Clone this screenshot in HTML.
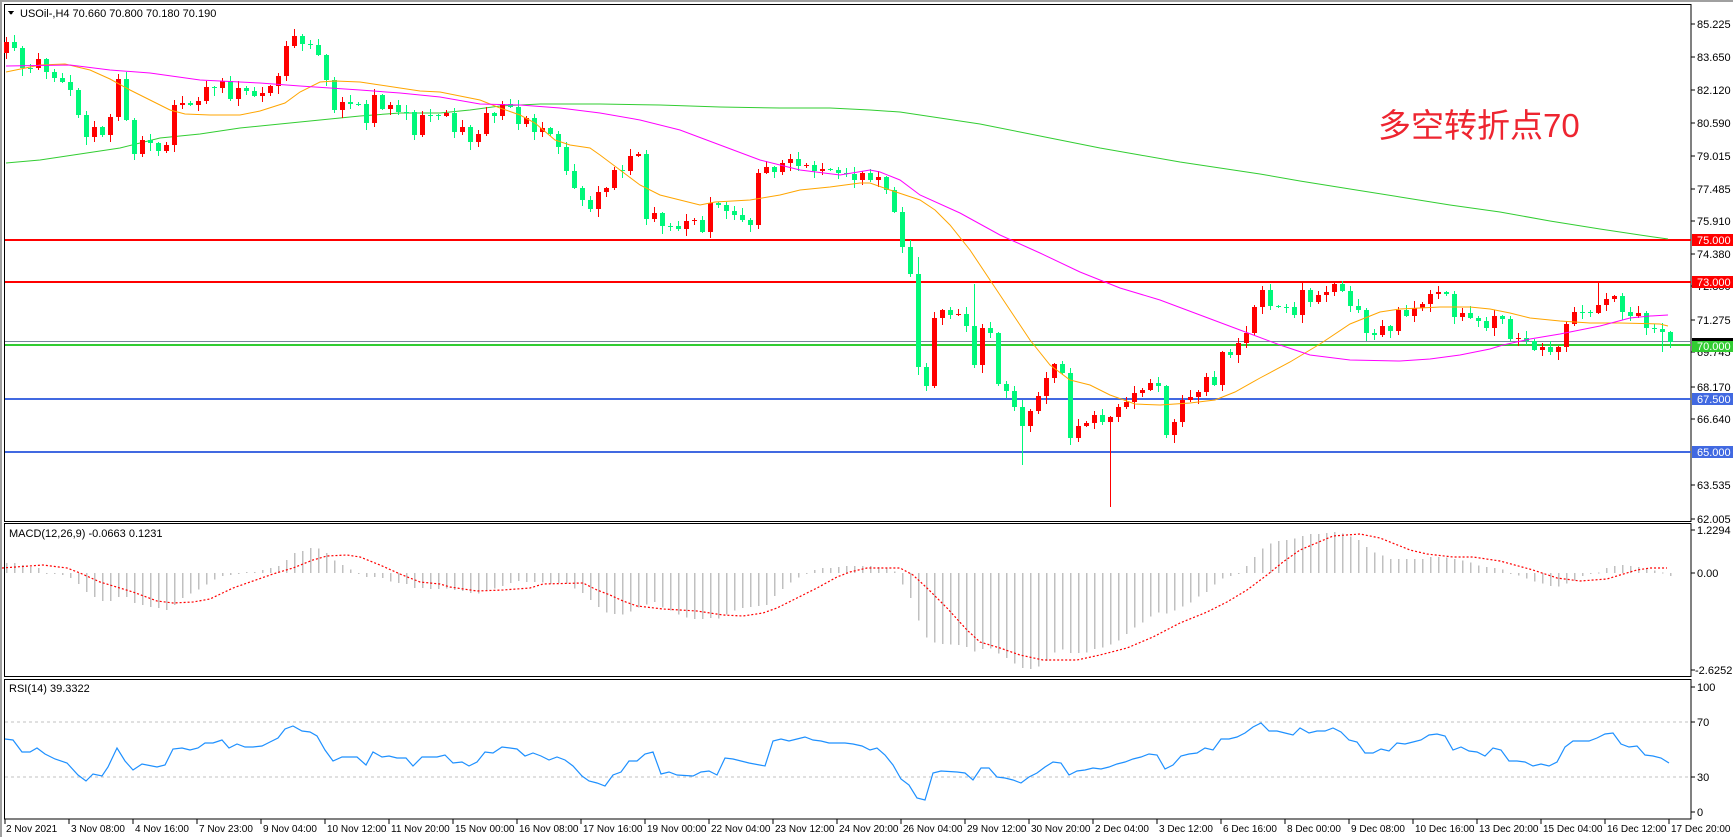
<!DOCTYPE html>
<html><head><meta charset="utf-8">
<style>
html,body{margin:0;padding:0;background:#fff;}
svg{display:block;}
text{font-family:"Liberation Sans","Noto Sans CJK SC",sans-serif;font-size:11px;fill:#000;}
#dt text{font-size:10px;}
</style></head>
<body>
<svg id="s" width="1733" height="837" viewBox="0 0 1733 837" xmlns="http://www.w3.org/2000/svg" shape-rendering="crispEdges">
<rect x="0" y="0" width="1733" height="837" fill="#fff"/>
<rect x="0" y="0" width="1733" height="2" fill="#a0a0a0"/>
<rect x="0" y="0" width="2" height="837" fill="#a0a0a0"/>
<rect x="4.5" y="4.5" width="1686.5" height="517" fill="none" stroke="#000" stroke-width="1"/>
<rect x="4.5" y="523.5" width="1686.5" height="153" fill="none" stroke="#000" stroke-width="1"/>
<rect x="4.5" y="679.5" width="1686.5" height="139.5" fill="none" stroke="#000" stroke-width="1"/>
<line x1="5" y1="240" x2="1691" y2="240" stroke="#ff0000" stroke-width="2"/>
<line x1="5" y1="282" x2="1691" y2="282" stroke="#ff0000" stroke-width="2"/>
<line x1="5" y1="341.5" x2="1691" y2="341.5" stroke="#778899" stroke-width="1"/>
<line x1="5" y1="345" x2="1691" y2="345" stroke="#32cd32" stroke-width="2"/>
<line x1="5" y1="399" x2="1691" y2="399" stroke="#4169e1" stroke-width="2"/>
<line x1="5" y1="452" x2="1691" y2="452" stroke="#4169e1" stroke-width="2"/>
<line x1="5" y1="722" x2="1691" y2="722" stroke="#c0c0c0" stroke-dasharray="3,3"/>
<line x1="5" y1="777" x2="1691" y2="777" stroke="#c0c0c0" stroke-dasharray="3,3"/>
<g id="dyn"></g>
<path d="M8 11 L14 11 L11 15 Z" fill="#000"/>
<text x="20" y="17">USOil-,H4  70.660 70.800 70.180 70.190</text>
<text x="9" y="537">MACD(12,26,9) -0.0663 0.1231</text>
<text x="9" y="692">RSI(14) 39.3322</text>
<text x="1378" y="137" style="font-size:33px;fill:#ee2530;">多空转折点70</text>
<g id="ticks"></g>
<text x="1697" y="28">85.225</text>
<text x="1697" y="61">83.650</text>
<text x="1697" y="94">82.120</text>
<text x="1697" y="127">80.590</text>
<text x="1697" y="160">79.015</text>
<text x="1697" y="193">77.485</text>
<text x="1697" y="225">75.910</text>
<text x="1697" y="258">74.380</text>
<text x="1697" y="290">72.850</text>
<text x="1697" y="324">71.275</text>
<text x="1697" y="356">69.745</text>
<text x="1697" y="391">68.170</text>
<text x="1697" y="423">66.640</text>
<text x="1697" y="489">63.535</text>
<text x="1697" y="523">62.005</text>
<rect x="1692" y="234" width="41" height="12" fill="#ff0000"/>
<text x="1697" y="244" style="fill:#fff">75.000</text>
<rect x="1692" y="276" width="41" height="12" fill="#ff0000"/>
<text x="1697" y="286" style="fill:#fff">73.000</text>
<rect x="1692" y="338" width="41" height="4" fill="#000"/>
<rect x="1692" y="341" width="41" height="11" fill="#32cd32"/>
<text x="1697" y="350" style="fill:#fff">70.000</text>
<rect x="1692" y="393" width="41" height="12" fill="#4169e1"/>
<text x="1697" y="403" style="fill:#fff">67.500</text>
<rect x="1692" y="446" width="41" height="12" fill="#4169e1"/>
<text x="1697" y="456" style="fill:#fff">65.000</text>
<text x="1697" y="534">1.2294</text>
<text x="1697" y="577">0.00</text>
<text x="1695" y="674">-2.6252</text>
<text x="1697" y="691">100</text>
<text x="1697" y="726">70</text>
<text x="1697" y="781">30</text>
<text x="1697" y="816">0</text>
<g id="dt">
<text x="6" y="832">2 Nov 2021</text>
<text x="71" y="832">3 Nov 08:00</text>
<text x="135" y="832">4 Nov 16:00</text>
<text x="199" y="832">7 Nov 23:00</text>
<text x="263" y="832">9 Nov 04:00</text>
<text x="327" y="832">10 Nov 12:00</text>
<text x="391" y="832">11 Nov 20:00</text>
<text x="455" y="832">15 Nov 00:00</text>
<text x="519" y="832">16 Nov 08:00</text>
<text x="583" y="832">17 Nov 16:00</text>
<text x="647" y="832">19 Nov 00:00</text>
<text x="711" y="832">22 Nov 04:00</text>
<text x="775" y="832">23 Nov 12:00</text>
<text x="839" y="832">24 Nov 20:00</text>
<text x="903" y="832">26 Nov 04:00</text>
<text x="967" y="832">29 Nov 12:00</text>
<text x="1031" y="832">30 Nov 20:00</text>
<text x="1095" y="832">2 Dec 04:00</text>
<text x="1159" y="832">3 Dec 12:00</text>
<text x="1223" y="832">6 Dec 16:00</text>
<text x="1287" y="832">8 Dec 00:00</text>
<text x="1351" y="832">9 Dec 08:00</text>
<text x="1415" y="832">10 Dec 16:00</text>
<text x="1479" y="832">13 Dec 20:00</text>
<text x="1543" y="832">15 Dec 04:00</text>
<text x="1607" y="832">16 Dec 12:00</text>
<text x="1671" y="832">17 Dec 20:00</text>
</g>
</svg>
<script>
(function(){
var NS="http://www.w3.org/2000/svg";
var g=document.getElementById("dyn");
function el(t,a,p){var e=document.createElementNS(NS,t);for(var k in a)e.setAttribute(k,a[k]);(p||g).appendChild(e);return e;}
function interp(L,x){if(x<=L[0][0])return L[0][1];for(var i=1;i<L.length;i++){if(x<=L[i][0]){var a=L[i-1],b=L[i];return a[1]+(b[1]-a[1])*(x-a[0])/(b[0]-a[0]);}}return L[L.length-1][1];}
function poly(L,col,w,extra){var s=L.map(function(p){return p[0]+","+p[1];}).join(" ");var a={points:s,fill:"none",stroke:col,"stroke-width":w,"shape-rendering":"auto"};for(var k in extra)a[k]=extra[k];el("polyline",a);}
var tg=document.getElementById("ticks");
[24,57,90,123,156,189,221,254,286,320,352,387,419,485,519,530,573,670,687,722,777,812].forEach(function(y){el("line",{x1:1691,y1:y,x2:1695,y2:y,stroke:"#000"},tg);});
for(var k=0;k<27;k++){var x=5+64*k;el("line",{x1:x,y1:819,x2:x,y2:824,stroke:"#000"},tg);}
var green=[[6,163],[40,160],[80,154],[120,148],[160,138],[200,134],[240,128],[280,124],[320,120],[360,116],[400,113],[440,113],[470,110],[500,106],[540,104],[600,104],[660,105],[720,107],[780,108],[830,108],[870,110],[900,112],[940,118],[980,124],[1020,132],[1060,140],[1100,148],[1140,155],[1180,162],[1220,168],[1260,174],[1300,181],[1350,189],[1400,197],[1450,205],[1500,212],[1550,221],[1600,229],[1640,235],[1668,239]];
var orange=[[6,72],[40,65],[65,64],[90,70],[110,79],[130,90],[150,100],[170,110],[185,114],[210,115],[240,115],[260,111],[285,103],[300,92],[320,82],[335,81],[360,82],[380,85],[400,88],[420,91],[440,92],[460,96],[480,100],[500,108],[520,115],[535,123],[555,140],[570,145],[590,148],[600,155],[620,170],[640,185],[660,195],[680,200],[700,205],[715,202],[750,200],[780,195],[800,190],[830,187],[860,183],[870,183],[890,190],[920,200],[935,210],[950,225],[970,250],[990,280],[1010,310],[1030,340],[1050,365],[1070,380],[1090,385],[1110,395],[1135,404],[1160,405],[1190,403],[1215,400],[1235,392],[1260,378],[1290,362],[1320,344],[1350,324],[1380,312],[1400,309],[1440,307],[1470,307],[1490,309],[1510,313],[1530,318],[1560,321],[1590,323],[1620,323],[1660,324],[1668,326]];
var mag=[[6,66],[70,65],[110,70],[150,73],[200,80],[260,83],[300,86],[330,88],[360,90],[400,93],[440,97],[480,104],[520,105],[560,108],[600,113],[640,120],[680,130],[720,145],[760,160],[800,170],[840,175],[870,170],[880,172],[900,180],[920,195],[960,213],[1000,235],[1040,253],[1080,272],[1120,288],[1160,300],[1200,315],[1240,330],[1280,345],[1310,355],[1350,360],[1400,361],[1430,359],[1460,355],[1490,349],[1503,345],[1530,339],[1560,334],[1600,326],[1630,318],[1650,316],[1668,315]];
poly(green,"#32cd32",1);
var A=[[6,42],[13,48],[21,68],[29,68],[37,59],[45,72],[53,78],[61,82],[69,90],[77,115],[85,137],[93,127],[101,135],[109,117],[117,79],[125,120],[133,154],[141,140],[149,143],[157,151],[165,145],[173,105],[181,103],[189,105],[197,101],[205,87],[213,88],[221,81],[229,99],[237,88],[245,91],[253,96],[261,93],[269,86],[277,76],[285,46],[293,36],[301,44],[309,45],[317,55],[325,80],[333,110],[341,102],[349,104],[357,104],[365,123],[373,95],[381,109],[389,105],[397,112],[405,112],[413,135],[421,115],[429,115],[437,116],
[445,113],[453,132],[461,127],[469,142],[477,134],[485,113],[493,116],[501,104],[509,107],[517,124],[525,118],[533,132],[541,128],[549,134],[557,147],[565,171],[573,188],[581,200],[589,209],[597,192],[605,188],[613,170],[621,171],[629,156],[637,154],[645,219],[653,213],[661,226],[669,226],[677,229],[685,221],[693,220],[701,232],[709,203],[717,205],[725,211],[733,215],[741,220],[749,225],[757,173],[765,167],[773,172],[781,163],[789,159],[797,166],[805,165],[813,171],[821,169],[829,170],[837,173],[845,174],[853,180],
[861,173],[869,180],[877,177],[885,190],[893,212],[901,247],[909,274],[917,367],[925,386],[933,318],[941,310],[949,315],[957,314],[965,326],[973,365],[981,328],[989,333],[997,384],[1005,391],[1013,407],[1021,426],[1029,411],[1037,396],[1045,378],[1053,364],[1061,373],[1069,438],[1077,426],[1085,423],[1093,415],[1101,422],[1109,417],[1117,407],[1125,402],[1133,393],[1141,390],[1149,383],[1157,386],[1165,435],[1173,422],[1181,400],[1189,397],[1197,392],[1205,377],[1213,385],[1221,352],[1229,355],[1237,343],[1245,333],[1253,307],[1261,290],[1269,306],[1277,307],[1285,307],[1293,315],[1301,290],
[1309,302],[1317,295],[1325,292],[1333,284],[1341,291],[1349,306],[1357,310],[1365,333],[1373,335],[1381,326],[1389,331],[1397,310],[1405,316],[1413,308],[1421,304],[1429,294],[1437,292],[1445,294],[1453,317],[1461,313],[1469,318],[1477,321],[1485,328],[1493,316],[1501,319],[1509,339],[1517,338],[1525,341],[1533,350],[1541,347],[1549,352],[1557,347],[1565,324],[1573,312],[1581,312],[1589,313],[1597,305],[1605,299],[1613,296],[1621,312],[1629,316],[1637,313],[1645,328],[1653,329],[1661,332],[1669,342]];
var N=209,c=[];for(var i=0;i<N;i++)c.push(null);
A.forEach(function(p){var i=Math.round((p[0]-6)/8);if(i>=0&&i<N)c[i]=p[1];});
var last=-1;for(var i=0;i<N;i++){if(c[i]!==null){if(last>=0&&i-last>1){for(var j=last+1;j<i;j++)c[j]=c[last]+(c[i]-c[last])*(j-last)/(i-last);}last=i;}}
for(var i=0;i<N;i++)if(c[i]===null)c[i]=c[i-1];
var prev=53;
for(var i=0;i<N;i++){
 var x=6+8*i,o=prev,cl=c[i];var top=Math.min(o,cl),bot=Math.max(o,cl);
 var h1=((i*37+11)%7)+1,h2=((i*53+5)%8)+1;
 var hi=top-h1,lo=bot+h2;
 if(i==138)lo=507; if(i==127)lo=465; if(i==114)hi=257; if(i==121)hi=284;
 if(i==199)hi=283; if(i==207)lo=352;
 var col=cl<o?"#ff0000":"#00f87a";
 el("rect",{x:x,y:hi,width:1,height:lo-hi,fill:col});
 var bh=Math.max(1,bot-top);
 el("rect",{x:x-2,y:top,width:5,height:bh,fill:col});
 prev=cl;
}
poly(orange,"#ffa500",1);
poly(mag,"#ff00ff",1);
var hist=[[2,563],[13,563],[22,565],[30,567],[37,567],[45,573],[53,573],[62,575],[70,578],[78,584],[86,592],[94,597],[102,601],[110,601],[117,597],[126,597],[133,603],[142,605],[149,607],[157,608],[166,610],[173,606],[182,598],[189,594],[197,590],[205,585],[213,580],[222,576],[229,575],[245,572],[253,572],[262,570],[269,568],[277,567],[286,560],[293,553],[302,551],[310,548],[317,548],[325,552],[333,560],[342,565],[349,569],[357,573],[366,577],[373,577],[382,578],[389,581],[397,583],[406,584],[413,588],[422,588],[429,589],[438,589],[445,588],[453,590],[462,591],[469,593],[477,594],[485,590],[493,589],[502,586],[509,583],[517,581],[525,582],[533,582],[541,582],[549,584],[557,583],[565,583],[573,588],[582,593],[589,599],[597,606],[605,612],[613,614],[621,615],[629,612],[637,608],[645,605],[653,601],[661,607],[669,610],[677,614],[685,617],[693,619],[701,619],[709,618],[717,619],[725,615],[733,611],[741,608],[749,607],[757,606],[765,606],[773,597],[781,590],[789,583],[797,578],[813,570],[821,568],[829,568],[837,567],[845,566],[853,566],[861,566],[869,566],[877,567],[885,568],[893,570],[901,583],[909,595],[917,618],[925,637],[933,642],[941,644],[957,645],[965,646],[973,652],[981,649],[989,648],[997,653],[1005,657],[1013,663],[1021,668],[1029,669],[1037,667],[1045,662],[1053,653],[1061,649],[1069,653],[1077,653],[1085,653],[1093,649],[1101,648],[1109,645],[1117,641],[1125,635],[1133,628],[1141,623],[1149,617],[1157,612],[1165,614],[1173,611],[1181,607],[1189,603],[1197,597],[1205,593],[1213,585],[1221,579],[1229,576],[1237,574],[1245,567],[1253,558],[1261,549],[1269,544],[1277,541],[1285,540],[1293,539],[1302,536],[1309,534],[1317,534],[1325,533],[1333,532],[1341,533],[1349,536],[1357,539],[1365,546],[1373,552],[1381,555],[1389,559],[1421,559],[1429,557],[1445,557],[1453,559],[1461,560],[1469,562],[1477,565],[1485,567],[1501,569],[1509,573],[1517,575],[1525,578],[1533,581],[1541,583],[1549,586],[1557,587],[1565,584],[1573,581],[1581,576],[1589,574],[1597,573],[1605,568],[1613,566],[1621,565],[1645,568],[1653,570],[1661,572],[1669,576]];
for(var i=0;i<N;i++){var x=6+8*i,y=interp(hist,x);var t=Math.min(573,y),b=Math.max(573,y);el("rect",{x:x,y:t,width:1.5,height:Math.max(1,b-t),fill:"#c0c0c0"});}
var sig=[[2,568],[43,565],[67,568],[80,573],[100,582],[133,592],[157,601],[173,603],[193,602],[210,599],[233,588],[253,581],[273,574],[293,568],[313,560],[327,556],[347,555],[360,557],[380,565],[400,574],[420,582],[440,584],[450,587],[477,591],[503,590],[530,588],[543,584],[583,583],[597,590],[610,595],[623,601],[637,606],[663,609],[697,611],[723,615],[743,616],[763,613],[777,608],[797,598],[817,588],[837,577],[850,572],[867,568],[900,568],[913,575],[927,588],[947,608],[967,630],[980,642],[1000,648],[1020,655],[1043,660],[1077,660],[1100,655],[1127,648],[1153,637],[1180,623],[1207,612],[1227,602],[1247,590],[1267,575],[1283,562],[1300,550],[1333,536],[1360,534],[1380,538],[1410,550],[1427,554],[1453,557],[1473,557],[1500,561],[1533,570],[1557,578],[1580,581],[1607,579],[1620,575],[1637,570],[1650,568],[1667,568]];
poly(sig,"#ff0000",1.2,{"stroke-dasharray":"2,2"});
var rsi=[[5,739],[13,740],[22,752],[30,752],[37,748],[45,754],[55,759],[67,763],[78,775],[86,781],[93,774],[102,776],[108,767],[117,748],[125,761],[133,770],[142,764],[157,767],[165,765],[173,749],[182,748],[190,750],[198,748],[205,743],[213,743],[222,740],[229,748],[237,744],[245,747],[253,747],[262,746],[270,742],[278,738],[285,729],[293,726],[302,731],[310,732],[317,736],[325,750],[333,761],[342,757],[357,757],[366,765],[373,752],[382,757],[389,756],[397,758],[406,758],[413,766],[422,757],[437,757],[445,755],[453,763],[462,762],[469,766],[477,762],[485,752],[493,753],[502,747],[510,748],[517,749],[525,756],[533,753],[541,756],[549,760],[557,757],[565,760],[573,766],[582,776],[589,781],[597,783],[605,786],[613,775],[621,772],[629,761],[637,761],[645,754],[653,752],[661,774],[669,772],[677,775],[693,776],[701,772],[709,771],[717,775],[725,758],[733,759],[741,761],[749,763],[765,766],[773,741],[781,739],[789,741],[797,739],[805,737],[813,740],[821,741],[829,743],[845,743],[853,744],[862,746],[870,750],[877,748],[885,755],[893,765],[901,779],[909,785],[917,798],[925,800],[933,773],[941,771],[957,772],[965,773],[973,780],[981,768],[989,768],[997,777],[1005,778],[1013,780],[1021,783],[1029,777],[1037,773],[1045,767],[1053,762],[1061,763],[1069,775],[1077,771],[1085,770],[1093,768],[1101,769],[1109,767],[1117,764],[1125,762],[1133,759],[1141,757],[1149,754],[1157,755],[1165,769],[1173,765],[1181,756],[1189,754],[1197,753],[1205,748],[1213,750],[1221,739],[1229,739],[1237,737],[1245,733],[1253,727],[1261,723],[1269,731],[1277,731],[1285,733],[1293,735],[1300,728],[1309,733],[1317,731],[1325,731],[1333,728],[1341,732],[1349,740],[1357,742],[1365,753],[1373,753],[1381,749],[1389,751],[1397,743],[1405,744],[1413,742],[1421,740],[1429,735],[1437,734],[1445,736],[1453,750],[1461,747],[1469,751],[1477,752],[1485,756],[1493,748],[1501,750],[1509,761],[1517,761],[1525,762],[1533,766],[1541,764],[1549,766],[1557,762],[1565,747],[1573,741],[1581,741],[1589,741],[1597,738],[1605,734],[1613,733],[1621,744],[1629,747],[1637,746],[1645,755],[1653,756],[1661,758],[1669,763]];
poly(rsi,"#1e90ff",1.2);
})();
</script>
</body></html>
